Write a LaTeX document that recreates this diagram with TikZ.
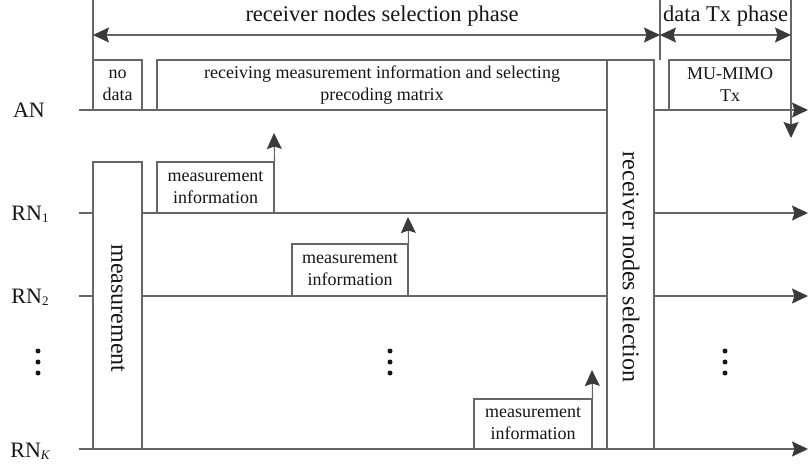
\documentclass[tikz,border=0pt]{standalone}
\usepackage{fontspec}
\setmainfont{Liberation Serif}
\usetikzlibrary{arrows.meta}
\definecolor{linegray}{HTML}{666666}
\definecolor{tipgray}{HTML}{3A3A3A}
\definecolor{ink}{HTML}{161616}
\newcommand{\smallsz}{\fontsize{18}{22}\selectfont}
\newcommand{\bigsz}{\fontsize{22.5}{26}\selectfont}
\newcommand{\vertsz}{\fontsize{24}{28}\selectfont}
\newcommand{\subsz}{\fontsize{13}{13}\selectfont}
\begin{document}
\begin{tikzpicture}[x=1pt,y=-1pt,
  every node/.style={text=ink},
  ln/.style={draw=linegray,line width=1.1pt},
  tip/.style={-{Stealth[length=16pt,width=15pt,inset=2.5pt,color=tipgray]}},
  dtip/.style={{Stealth[length=16pt,width=15pt,inset=2.5pt,color=tipgray]}-{Stealth[length=16pt,width=15pt,inset=2.5pt,color=tipgray]}},
  slot/.style={ln,fill=white,inner sep=0pt,align=center,font=\smallsz},
  rowlabel/.style={font=\fontsize{22}{24}\selectfont,inner sep=0pt},
  dot/.style={circle,fill=ink,inner sep=0pt,minimum size=5pt}]
\useasboundingbox (0,0) rectangle (808,466);

% row labels
\node[rowlabel] (an) at (29,110) {AN};
\node[rowlabel] (rn1) at (30,214) {RN\raisebox{-0.2ex}{\subsz 1}};
\node[rowlabel] (rn2) at (30,297) {RN\raisebox{-0.2ex}{\subsz 2}};
\node[rowlabel] (rnk) at (30,451) {RN\raisebox{-0.2ex}{\subsz\itshape K}};

% time axis end points
\coordinate (an0) at (79,110);  \coordinate (an1) at (808,110);
\coordinate (r10) at (79,213);  \coordinate (r11) at (808,213);
\coordinate (r20) at (79,296);  \coordinate (r21) at (808,296);
\coordinate (rk0) at (79,449);  \coordinate (rk1) at (808,449);
\draw[ln,tip] (an0) -- (an1);
\draw[ln,tip] (r10) -- (r11);
\draw[ln,tip] (r20) -- (r21);
\draw[ln,tip] (rk0) -- (rk1);

% phase markers
\coordinate (p0t) at (93,0);   \coordinate (p0b) at (93,60);
\coordinate (p1t) at (660,0);  \coordinate (p1b) at (660,60);
\coordinate (p2t) at (791,0);  \coordinate (p2b) at (791,138);
\coordinate (a0) at (93,35);   \coordinate (a1) at (660,35);  \coordinate (a2) at (791,35);
\draw[ln] (p0t) -- (p0b);
\draw[ln] (p1t) -- (p1b);
\draw[ln,tip] (p2t) -- (p2b);
\draw[ln,dtip] (a0) -- (a1);
\draw[ln,dtip] (a1) -- (a2);
\node[font=\bigsz,inner sep=0pt] (ph1) at (382,16) {receiver nodes selection phase};
\node[font=\bigsz,inner sep=0pt] (ph2) at (725.5,16) {data Tx phase};

% AN slots
\node[slot,minimum width=49pt,minimum height=50pt] (nodata) at (117.5,85) {no\\data};
\node[slot,minimum width=450pt,minimum height=50pt] (recv) at (382,85)
  {receiving measurement information and selecting\\precoding matrix};
\node[slot,minimum width=122pt,minimum height=50pt] (mimo) at (730,85) {MU-MIMO\\Tx};

% measurement and selection columns
\node[slot,minimum width=49pt,minimum height=287pt] (meas) at (117.5,305.5) {};
\node[font=\vertsz,rotate=-90,inner sep=0pt] (measlbl) at (118,308.5) {measurement};
\node[slot,minimum width=47pt,minimum height=389pt] (sel) at (630.5,254.5) {};
\node[font=\vertsz,rotate=-90,inner sep=0pt] (sellbl) at (631,267) {receiver nodes selection};

% measurement reports
\node[slot,minimum width=117pt,minimum height=51pt] (mi1) at (215.5,187.5) {measurement\\information};
\node[slot,minimum width=116pt,minimum height=52pt] (mi2) at (350,270) {measurement\\information};
\node[slot,minimum width=118pt,minimum height=50pt] (mi3) at (533,424) {measurement\\information};
\coordinate (u1) at (274,133);
\coordinate (u2) at (408,217);
\coordinate (u3) at (592,370);
\draw[ln,tip] (mi1.north east) -- (u1);
\draw[ln,tip] (mi2.north east) -- (u2);
\draw[ln,tip] (mi3.north east) -- (u3);

% continuation dots
\foreach \x/\n in {38/l,390/m,725/r}{
  \node[dot] (\n a) at (\x,351) {};
  \node[dot] (\n b) at (\x,362) {};
  \node[dot] (\n c) at (\x,373) {};
}
\end{tikzpicture}
\end{document}
